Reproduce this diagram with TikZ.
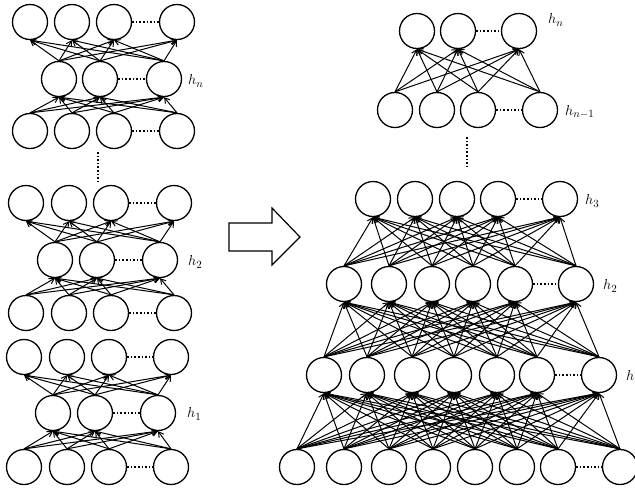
\documentclass[tikz,border=0pt]{standalone}
\usetikzlibrary{arrows.meta}
\begin{document}
\begin{tikzpicture}[x=1pt,y=-1pt,
  neuron/.style={circle,draw,line width=1.3pt,minimum size=35pt,inner sep=0pt},
  conn/.style={line width=1pt,-{Straight Barb[length=5pt,width=6pt]}},
  dotline/.style={line width=1.6pt,dotted},
  lab/.style={anchor=west,inner sep=0pt,font=\fontsize{15}{17}\selectfont}]
\useasboundingbox (0,0) rectangle (635,491);
% ---------- left stack ----------
\foreach \x [count=\i] in {30,72,114,177} \node[neuron] (A\i) at (\x,22) {};
\foreach \x [count=\i] in {59,100,164} \node[neuron] (B\i) at (\x,79) {};
\foreach \x [count=\i] in {30,72,114,177} \node[neuron] (C\i) at (\x,131) {};
\foreach \x [count=\i] in {26,69,111,174} \node[neuron] (D\i) at (\x,203) {};
\foreach \x [count=\i] in {55,97,160} \node[neuron] (E\i) at (\x,260) {};
\foreach \x [count=\i] in {26,69,111,174} \node[neuron] (F\i) at (\x,313) {};
\foreach \x [count=\i] in {24,67,109,171} \node[neuron] (G\i) at (\x,357) {};
\foreach \x [count=\i] in {53,95,158} \node[neuron] (H\i) at (\x,413) {};
\foreach \x [count=\i] in {24,67,109,171} \node[neuron] (I\i) at (\x,467) {};
\foreach \i in {1,...,4}{\foreach \j in {1,...,3}{
  \draw[conn] (C\i.north) -- (B\j.south);
  \draw[conn] (B\j.north) -- (A\i.south);
  \draw[conn] (F\i.north) -- (E\j.south);
  \draw[conn] (E\j.north) -- (D\i.south);
  \draw[conn] (I\i.north) -- (H\j.south);
  \draw[conn] (H\j.north) -- (G\i.south);
}}
\foreach \r in {A,C,D,F,G,I} \draw[dotline] (\r3.east) -- (\r4.west);
\foreach \r in {B,E,H} \draw[dotline] (\r2.east) -- (\r3.west);
\coordinate (lv1) at (98,152);
\coordinate (lv2) at (98,183);
\draw[dotline] (lv1) -- (lv2);
\node[lab] (lhn) at (188,81) {$h_n$};
\node[lab] (lh2) at (188,262) {$h_2$};
\node[lab] (lh1) at (187,414) {$h_1$};
% ---------- arrow ----------
\draw[line width=1.2pt] (229,223) -- (272,223) -- (272,208) -- (300,237) -- (272,265) -- (272,251) -- (229,251) -- cycle;
% ---------- right network ----------
\foreach \x [count=\i] in {417,458,519} \node[neuron] (P\i) at (\x,31) {};
\foreach \x [count=\i] in {395,437,478,540} \node[neuron] (Q\i) at (\x,110) {};
\foreach \x [count=\i] in {373,415,457,498,560} \node[neuron] (R\i) at (\x,199) {};
\foreach \x [count=\i] in {344,389,432,473,515,576} \node[neuron] (S\i) at (\x,284) {};
\foreach \x [count=\i] in {324,367,412,454,497,537,599} \node[neuron] (T\i) at (\x,375) {};
\foreach \x [count=\i] in {297,344,389,433,475,517,558,620} \node[neuron] (U\i) at (\x,467) {};
\foreach \i in {1,...,4}{\foreach \j in {1,...,3}{\draw[conn] (Q\i.north) -- (P\j.south);}}
\foreach \i in {1,...,6}{\foreach \j in {1,...,5}{\draw[conn] (S\i.north) -- (R\j.south);}}
\foreach \i in {1,...,7}{\foreach \j in {1,...,6}{\draw[conn] (T\i.north) -- (S\j.south);}}
\foreach \i in {1,...,8}{\foreach \j in {1,...,7}{\draw[conn] (U\i.north) -- (T\j.south);}}
\draw[dotline] (P2.east) -- (P3.west);
\draw[dotline] (Q3.east) -- (Q4.west);
\draw[dotline] (R4.east) -- (R5.west);
\draw[dotline] (S5.east) -- (S6.west);
\draw[dotline] (T6.east) -- (T7.west);
\draw[dotline] (U7.east) -- (U8.west);
\coordinate (rv1) at (467,137);
\coordinate (rv2) at (467,167);
\draw[dotline] (rv1) -- (rv2);
\node[lab] (rhn) at (548,20) {$h_n$};
\node[lab] (rhm) at (565,112) {$h_{n-1}$};
\node[lab] (rh3) at (585,201) {$h_3$};
\node[lab] (rh2) at (603,286) {$h_2$};
\node[lab] (rh1) at (626,377) {$h_1$};
\end{tikzpicture}
\end{document}
